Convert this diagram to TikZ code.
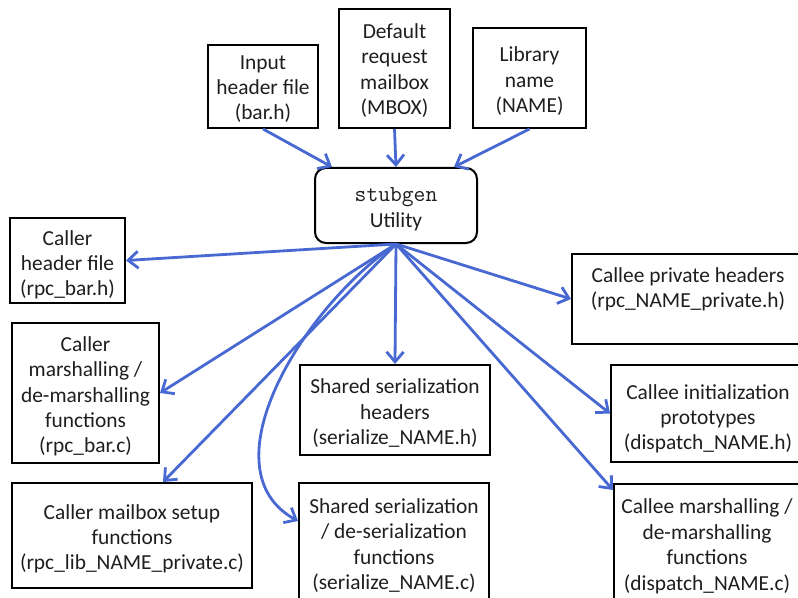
\documentclass[tikz,border=0pt]{standalone}
\usepackage{fontspec}
\setmainfont{Carlito}
\usetikzlibrary{arrows.meta,calc}
\definecolor{flow}{RGB}{72,104,210}
\definecolor{ink}{RGB}{30,30,30}
% centred lines of a box, moved down by #1 without changing the box
\newcommand{\boxlines}[2]{\raisebox{-#1}[\height][\depth]{\begin{tabular}{@{}c@{}}#2\end{tabular}}}
\begin{document}
\begin{tikzpicture}[x=1bp,y=-1bp,
  box/.style={draw=black, line width=2bp, inner sep=0pt,
    text=ink, font=\fontsize{21.5}{25.5}\selectfont},
  feed/.style={draw=flow, line width=2.8bp,
    -{Straight Barb[length=10bp,width=17bp]}},
]
\useasboundingbox (0,0) rectangle (798,598);
\clip (0,0) rectangle (798,598);

% inputs
\node[box, minimum width=110bp, minimum height=83bp] (inp) at (263,86.5)
  {\boxlines{3bp}{Input\\header file\\(bar.h)}};
\node[box, minimum width=111bp, minimum height=119bp] (mbox) at (394.5,68.5)
  {\boxlines{3bp}{Default\\request\\mailbox\\(MBOX)}};
\node[box, minimum width=113bp, minimum height=100bp] (lib) at (529.5,78)
  {\boxlines{4bp}{Library\\name\\(NAME)}};

% the generator
\node[box, rounded corners=11bp, minimum width=162bp, minimum height=75bp] (stub) at (396,205.5)
  {\boxlines{4bp}{{\ttfamily\fontsize{23}{25.5}\selectfont stubgen}\\Utility}};

% caller side
\node[box, minimum width=115bp, minimum height=85bp] (chdr) at (67.5,260.5)
  {\boxlines{5bp}{Caller\\header file\\(rpc\_bar.h)}};
\node[box, minimum width=147bp, minimum height=140bp] (cmar) at (85.5,393)
  {\boxlines{4bp}{Caller\\marshalling /\\de-marshalling\\functions\\(rpc\_bar.c)}};
\node[box, minimum width=240bp, minimum height=105bp] (cmbx) at (132,535.5)
  {\boxlines{4bp}{Caller mailbox setup\\functions\\(rpc\_lib\_NAME\_private.c)}};

% shared
\node[box, minimum width=190bp, minimum height=90bp] (shh) at (395,410)
  {\boxlines{4bp}{Shared serialization\\headers\\(serialize\_NAME.h)}};
\node[box, minimum width=190bp, minimum height=123bp] (shc) at (394,544.5)
  {\boxlines{2bp}{Shared serialization\\/ de-serialization\\functions\\(serialize\_NAME.c)}};

% callee side
\node[box, minimum width=232bp, minimum height=90bp] (cph) at (688,299)
  {\boxlines{-9bp}{Callee private headers\\(rpc\_NAME\_private.h)}};
\node[box, minimum width=194bp, minimum height=97bp] (cin) at (708,413.5)
  {\boxlines{6bp}{Callee initialization\\prototypes\\(dispatch\_NAME.h)}};
\node[box, minimum width=186bp, minimum height=122bp] (cmr) at (707,545)
  {\boxlines{2bp}{Callee marshalling /\\de-marshalling\\functions\\(dispatch\_NAME.c)}};

% inputs into the generator
\draw[feed] (inp.south) -- ($(stub.north west)+(18,0)$);
\draw[feed] (mbox.south) -- (stub.north);
\draw[feed] (lib.south) -- ($(stub.north east)+(-24,0)$);

% generated files
\draw[feed] (stub.south) -- (chdr.east);
\draw[feed] (stub.south) -- (cmar.east);
\draw[feed] (stub.south) -- ($(cmbx.north)+(31,0)$);
\draw[feed] (stub.south) .. controls (300,310) and (205,470) .. ($(shc.north west)+(0,39)$);
\draw[feed] (stub.south) -- (shh.north);
\draw[feed] (stub.south) -- (cph.west);
\draw[feed] (stub.south) -- (cin.west);
\draw[feed] (stub.south) -- ($(cmr.north west)+(0,7)$);
\end{tikzpicture}
\end{document}
